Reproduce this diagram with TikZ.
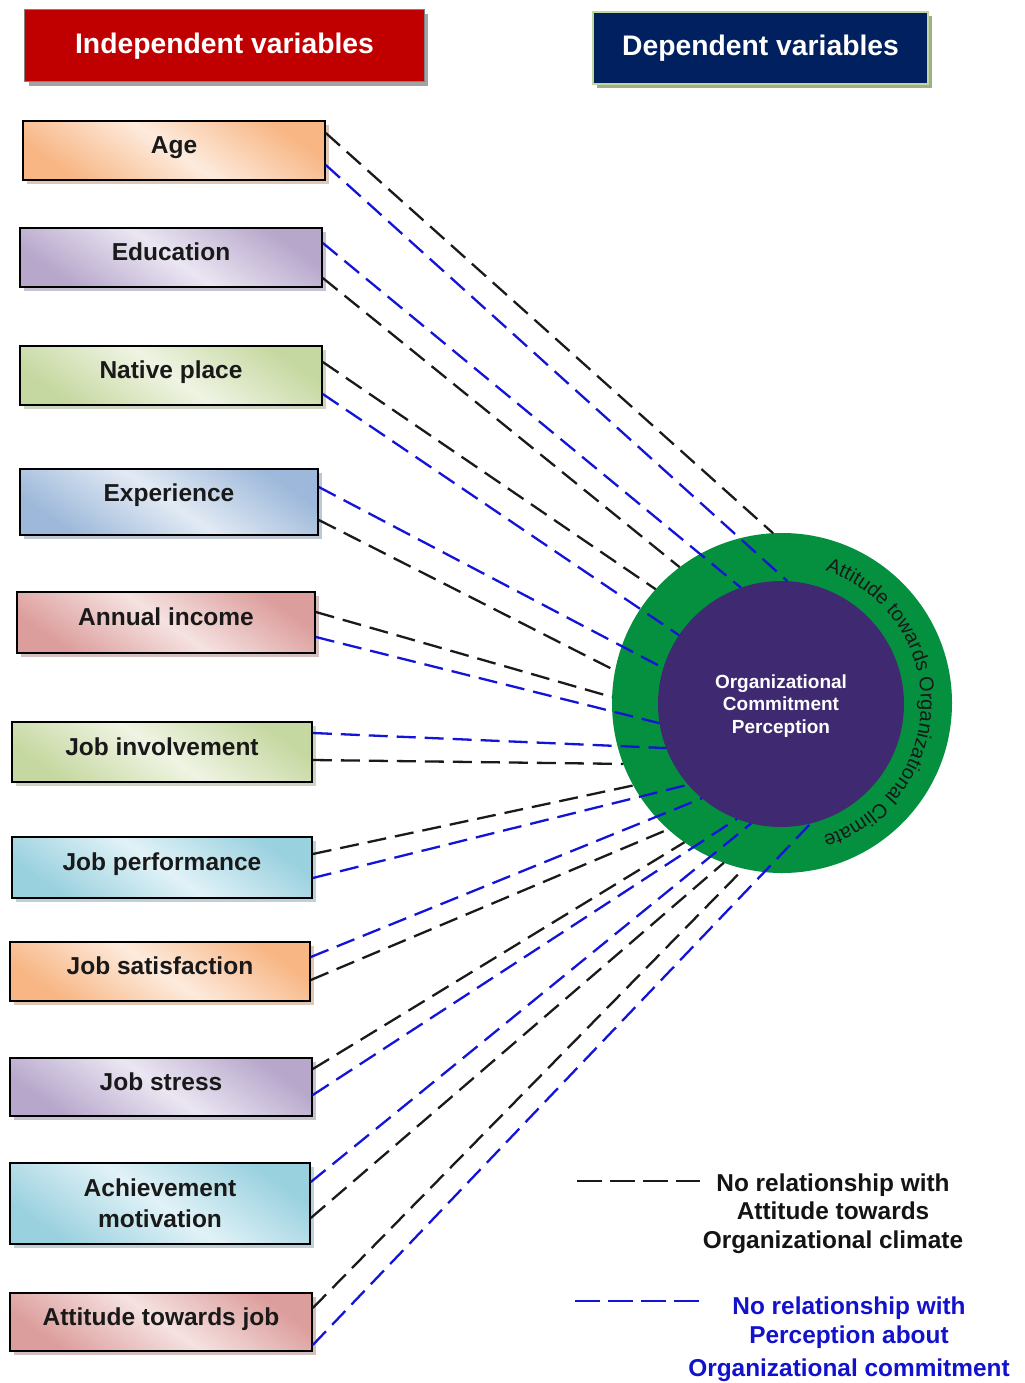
\documentclass[tikz,border=0pt]{standalone}
\usepackage{fontspec}
\setmainfont{Liberation Sans}
\usetikzlibrary{shadows,decorations.text,calc}
\definecolor{hdrred}{HTML}{C00000}
\definecolor{hdrnavy}{HTML}{002060}
\definecolor{hdrborder}{HTML}{C3D69B}
\definecolor{hdrshadow}{HTML}{9FAF88}
\definecolor{ringgreen}{HTML}{05903F}
\definecolor{corepurple}{HTML}{3F2A72}
\definecolor{lineblue}{HTML}{1414D8}
\definecolor{lineblack}{HTML}{1A1A1A}
\definecolor{legblue}{HTML}{1212CC}
\definecolor{orD}{HTML}{F7B07A}\definecolor{orL}{HTML}{FDEBDD}
\definecolor{puD}{HTML}{B1A0C7}\definecolor{puL}{HTML}{EBE6F2}
\definecolor{grD}{HTML}{C2D59A}\definecolor{grL}{HTML}{EFF4E3}
\definecolor{blD}{HTML}{95B3D7}\definecolor{blL}{HTML}{E2EAF4}
\definecolor{reD}{HTML}{D99694}\definecolor{reL}{HTML}{F5E2E1}
\definecolor{aqD}{HTML}{92CDDC}\definecolor{aqL}{HTML}{E1F2F7}
\begin{document}
\begin{tikzpicture}[x=1bp,y=1bp,
  vbase/.style={draw=black, line width=1.6bp, inner sep=0pt,
    font=\fontsize{24.5bp}{30bp}\selectfont\bfseries, text=black!90},
  vone/.style={vbase, text height=18bp, text depth=11.4bp},
  gfill/.style 2 args={top color=#1!90!#2, bottom color=#1!90!#2, middle color=#2, shading angle=-35,
    drop shadow={shadow xshift=4bp, shadow yshift=-4bp, fill=#1!75!black, opacity=.45}},
  hdr/.style={inner sep=0pt, font=\fontsize{28.3bp}{34bp}\selectfont\bfseries, text=white},
  blk/.style={draw=lineblack, line width=2.3bp, dash pattern=on 19bp off 9bp},
  blu/.style={draw=lineblue, line width=2.3bp, dash pattern=on 19bp off 9bp},
  legblk/.style={draw=lineblack, line width=2.3bp, dash pattern=on 25bp off 8bp},
  legblu/.style={draw=lineblue, line width=2.3bp, dash pattern=on 25bp off 8bp},
  legtext/.style={align=center, inner sep=0pt, font=\fontsize{24.4bp}{28.5bp}\selectfont\bfseries}
]
\fill[white] (0,0) rectangle (1024,-1383);
\useasboundingbox (0,0) rectangle (1024,-1383);

% headers
\node[hdr, fill=hdrred, draw=gray, line width=1bp, minimum width=399bp, minimum height=72bp,
  drop shadow={shadow xshift=4bp, shadow yshift=-4bp, fill=black!45, opacity=.8}]
  (indep) at (224.5,-46) {Independent variables};
\node[hdr, fill=hdrnavy, draw=hdrborder, line width=2.5bp, minimum width=335bp, minimum height=72bp,
  drop shadow={shadow xshift=4bp, shadow yshift=-4bp, fill=hdrshadow, opacity=1}]
  (dep) at (760.5,-48) {Dependent variables};

% independent variable boxes
\node[vone, gfill={orD}{orL}, minimum width=302bp, minimum height=59bp] (age) at (174,-150.5) {Age};
\node[vone, gfill={puD}{puL}, minimum width=302bp, minimum height=59bp] (edu) at (171,-257.5) {Education};
\node[vone, gfill={grD}{grL}, minimum width=302bp, minimum height=59bp] (nat) at (171,-375.5) {Native place};
\node[vone, text depth=20bp, gfill={blD}{blL}, minimum width=298bp, minimum height=66bp] (exp) at (169,-502) {Experience};
\node[vone, gfill={reD}{reL}, minimum width=298bp, minimum height=61bp] (inc) at (166,-622.5) {Annual income};
\node[vone, gfill={grD}{grL}, minimum width=300bp, minimum height=60bp] (inv) at (162,-752) {Job involvement};
\node[vone, gfill={aqD}{aqL}, minimum width=300bp, minimum height=61bp] (perf) at (162,-867.5) {Job performance};
\node[vone, gfill={orD}{orL}, minimum width=300bp, minimum height=59bp] (sat) at (160,-971.5) {Job satisfaction};
\node[vone, gfill={puD}{puL}, minimum width=302bp, minimum height=58bp] (str) at (161,-1087) {Job stress};
\node[vbase, align=center, font=\fontsize{24.5bp}{31bp}\selectfont\bfseries, gfill={aqD}{aqL}, minimum width=300bp, minimum height=81bp] (ach) at (160,-1203.5) {Achievement\\motivation};
\node[vone, gfill={reD}{reL}, minimum width=302bp, minimum height=58bp] (att) at (161,-1322) {Attitude towards job};

% dependent circles
\node[circle, fill=ringgreen, minimum size=340bp, inner sep=0pt, outer sep=0pt] (ring) at (782,-703) {};
\node[circle, fill=corepurple, minimum size=246bp, inner sep=0pt, outer sep=0pt] (core) at (781,-704) {};
\node[align=center, inner sep=0pt, text=white, font=\fontsize{19bp}{22.5bp}\selectfont\bfseries] (coretext) at (781,-706) {Organizational\\Commitment\\Perception};

% connectors
\draw[blk] ($(age.east)+(0,17.5)$) -- (ring.93);
\draw[blu] ($(age.east)+(0,-14.5)$) -- (core.87);
\draw[blu] ($(edu.east)+(0,14.5)$) -- (core.109);
\draw[blk] ($(edu.east)+(0,-20.5)$) -- (ring.127);
\draw[blk] ($(nat.east)+(0,13.5)$) -- (ring.138);
\draw[blu] ($(nat.east)+(0,-18.5)$) -- (core.146);
\draw[blu] ($(exp.east)+(0,15)$) -- (core.163);
\draw[blk] ($(exp.east)+(0,-18)$) -- (ring.169);
\draw[blk] ($(inc.east)+(0,10.5)$) -- (ring.178);
\draw[blu] ($(inc.east)+(0,-14.5)$) -- (core.189);
\draw[blu] ($(inv.east)+(0,19)$) -- (core.201);
\draw[blk] ($(inv.east)+(0,-8)$) -- (ring.201);
\draw[blk] ($(perf.east)+(0,13.5)$) -- (ring.209);
\draw[blu] ($(perf.east)+(0,-10.5)$) -- (core.221);
\draw[blu] ($(sat.east)+(0,14.5)$) -- (core.230);
\draw[blk] ($(sat.east)+(0,-8.5)$) -- (ring.228);
\draw[blk] ($(str.east)+(0,18)$) -- (ring.235);
\draw[blu] ($(str.east)+(0,-8)$) -- (core.249);
\draw[blu] ($(ach.east)+(0,21.5)$) -- (core.256);
\draw[blk] ($(ach.east)+(0,-14.5)$) -- (ring.250);
\draw[blk] ($(att.east)+(0,14)$) -- (ring.257);
\draw[blu] ($(att.east)+(0,-23)$) -- (core.284);

% ring text
\path[decorate, decoration={text along path, text align=center,
  text={|\fontsize{20bp}{20bp}\selectfont\color{black!90}|Attitude towards Organizational Climate}}]
  ([shift={(73:139)}]ring.center) arc[start angle=73, end angle=-74, radius=139];

% legend
\coordinate (lka) at (577,-1181);
\coordinate (lkb) at (700,-1181);
\draw[legblk] (lka) -- (lkb);
\node[legtext, text=black!92] (legk) at (833,-1213.5) {No relationship with\\Attitude towards\\Organizational climate};
\coordinate (lba) at (575,-1301);
\coordinate (lbb) at (700,-1301);
\draw[legblu] (lba) -- (lbb);
\node[legtext, text=legblue] (legb) at (849,-1339) {No relationship with\\Perception about\\[4.5bp]Organizational commitment};
\end{tikzpicture}
\end{document}
